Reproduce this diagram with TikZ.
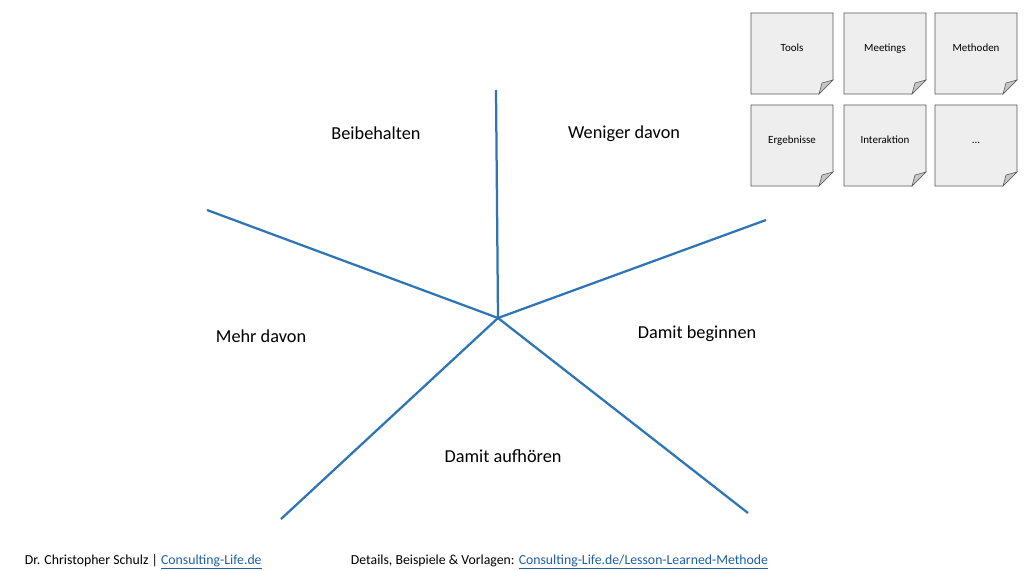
\documentclass[tikz,border=0pt]{standalone}
\usepackage{fontspec}
\setmainfont{Carlito}
\definecolor{spoke}{HTML}{2E75B6}
\definecolor{linkblue}{HTML}{1F5FA8}
\definecolor{notegray}{HTML}{EEEEEE}
\begin{document}
\begin{tikzpicture}[x=0.025cm,y=-0.025cm]

% Just a workaround to fix the page size
\useasboundingbox[fill=white] (0,0) rectangle (1024,571);

% Spokes
\coordinate (hub) at (498,318);
\coordinate (top) at (496,90);
\coordinate (upleft) at (207,210);
\coordinate (upright) at (766,220);
\coordinate (lowleft) at (281,519);
\coordinate (lowright) at (748,513);
\foreach \e in {top,upleft,upright,lowleft,lowright}
	\draw[spoke, line width=1.6pt] (hub) -- (\e);

% Labels
\tikzset{label/.style={font=\fontsize{13}{15}\selectfont}}
\node[label] (keep)  at (376,133) {Beibehalten};
\node[label] (less)  at (624,134) {Weniger davon};
\node[label] (more)  at (261,336) {Mehr davon};
\node[label] (start) at (697,334) {Damit beginnen};
\node[label] (stop)  at (503,456) {Damit aufhören};

% Notes
\newcommand{\note}[4]{
	\draw[gray!70!black, fill=notegray, line width=0.4pt]
		(#2,#3) -- ++(82,0) -- ++(0,67) -- ++(-14,14) -- ++(-68,0) -- cycle;
	\draw[gray!70!black, fill=gray!45, line width=0.4pt]
		(#2+82,#3+67) -- ++(-14,14) -- ++(3,-11) -- cycle;
	\node[font=\fontsize{7.8}{9}\selectfont, text height=1.6ex, text depth=0.4ex] (#1) at (#2+41,#3+34) {#4};
}
\note {tools}    {751}{13}  {Tools}
\note {meetings} {844}{13}  {Meetings}
\note {methods}  {935}{13}  {Methoden}
\note {results}  {751}{105} {Ergebnisse}
\note {interact} {844}{105} {Interaktion}
\note {etc}      {935}{105} {...}

% Footer
\tikzset{foot/.style={font=\fontsize{9.8}{11}\selectfont, anchor=west}}
\node[foot] (author) at (20,562) {Dr. Christopher Schulz | \textcolor{linkblue}{\underline{Consulting-Life.de}}};
\node[foot] (details) at (346,562) {Details, Beispiele \& Vorlagen: \textcolor{linkblue}{\underline{Consulting-Life.de/Lesson-Learned-Methode}}};
\end{tikzpicture}
\end{document}
